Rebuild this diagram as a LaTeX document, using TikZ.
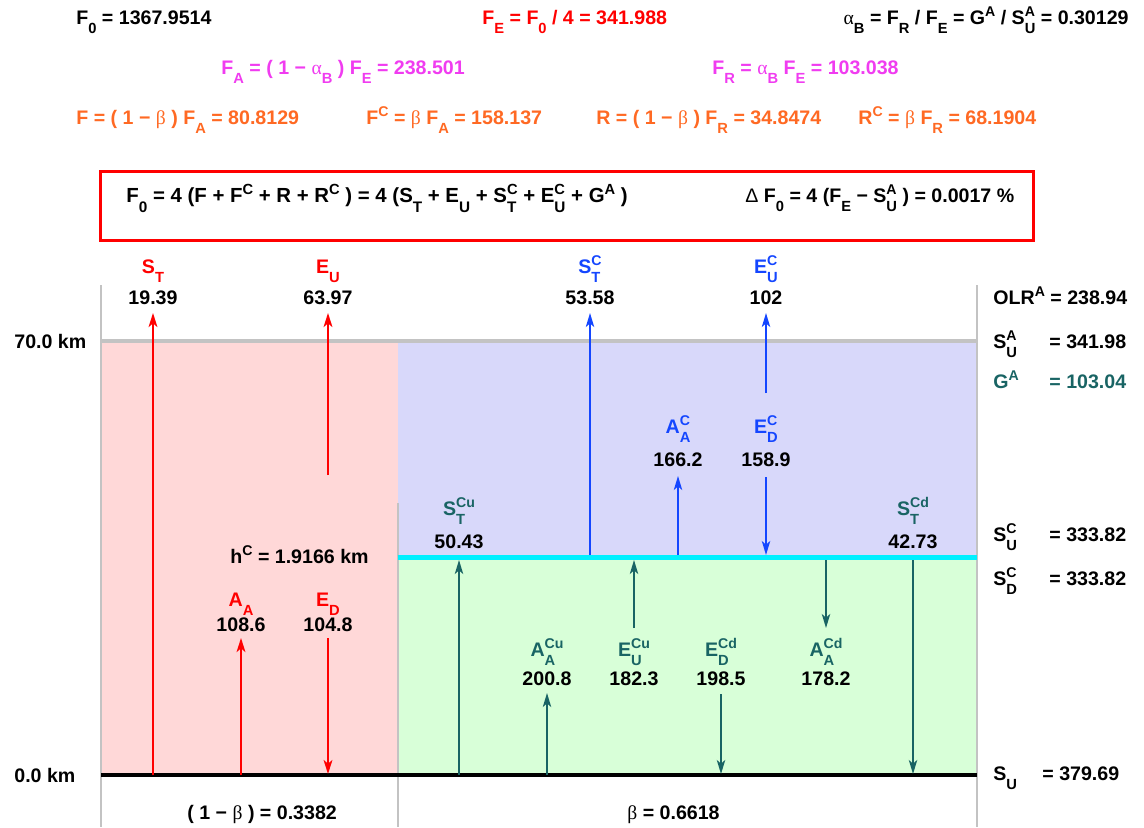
\documentclass[tikz,border=0pt]{standalone}
\usepackage{fontspec}
\setmainfont{Liberation Sans}
\newfontfamily\grk{Liberation Serif}
\usepackage{graphicx}
\usetikzlibrary{arrows.meta}
\definecolor{cred}{RGB}{255,0,0}
\definecolor{cmag}{RGB}{240,60,240}
\definecolor{corg}{RGB}{255,105,35}
\definecolor{cblue}{RGB}{20,70,255}
\definecolor{cteal}{RGB}{25,100,100}
\definecolor{fpink}{RGB}{255,216,216}
\definecolor{fblue}{RGB}{216,216,250}
\definecolor{fgreen}{RGB}{216,255,216}
\definecolor{ccyan}{RGB}{0,240,255}
\definecolor{cgray}{RGB}{195,195,195}
\newcommand\sbs[1]{\raisebox{-0.5em}{\scalebox{0.75}{#1}}}
\newcommand\sps[1]{\raisebox{0.36em}{\scalebox{0.72}{#1}}}
\newcommand\sbp[2]{\ooalign{\sps{#2}\cr\sbs{#1}\cr}}
\newcommand\al{{\grk\mdseries α}}
\newcommand\be{{\grk\mdseries β}}
\begin{document}
\begin{tikzpicture}[x=0.5pt,y=-0.5pt,
  font=\fontsize{9.8}{11.5}\selectfont\bfseries,
  every node/.style={inner sep=0pt},
  lbl/.style={anchor=base},
  lw/.style={anchor=base west},
  arrR/.style={draw=cred, line width=1pt, -{Stealth[length=7pt,width=4.4pt,inset=1.8pt]}},
  arrB/.style={draw=cblue, line width=0.8pt, -{Stealth[length=7pt,width=4.2pt,inset=1.8pt]}},
  arrT/.style={draw=cteal, line width=0.8pt, -{Stealth[length=7pt,width=4.2pt,inset=1.8pt]}},
  gline/.style={draw=cgray, line width=1pt}]
\useasboundingbox (0,0) rectangle (1144,827);

% ---- top formulas ----
\node[lw] (f0) at (76,24) {F\sbs{0} = 1367.9514};
\node[lw, text=cred] (fe) at (482,24) {F\sbs{E} = F\sbs{0} / 4 = 341.988};
\node[anchor=base east] (ab) at (1129,24) {\al\sbs{B} = F\sbs{R} / F\sbs{E} = G\sps{A} / S\sbp{U}{A} = 0.30129};
\node[lw, text=cmag] (fa) at (221,74) {F\sbs{A} = ( 1 − \al\sbs{B} ) F\sbs{E} = 238.501};
\node[lw, text=cmag] (fr) at (712,74) {F\sbs{R} = \al\sbs{B} F\sbs{E} = 103.038};
\node[lw, text=corg] (ff) at (76,124) {F = ( 1 − \be{} ) F\sbs{A} = 80.8129};
\node[lw, text=corg] (fc) at (366,124) {F\sps{C} = \be{} F\sbs{A} = 158.137};
\node[lw, text=corg] (rr) at (596,124) {R = ( 1 − \be{} ) F\sbs{R} = 34.8474};
\node[lw, text=corg] (rc) at (858,124) {R\sps{C} = \be{} F\sbs{R} = 68.1904};

% ---- box ----
\node[draw=cred, line width=1.5pt, minimum width=466.5pt, minimum height=34.5pt] (box) at (567,205.5) {};
\node[lw, font=\fontsize{10.2}{12}\selectfont\bfseries] (eq1) at (126,202) {F\sbs{0} = 4 (F + F\sps{C} + R + R\sps{C} ) = 4 (S\sbs{T} + E\sbs{U} + S\sbp{T}{C} + E\sbp{U}{C} + G\sps{A} )};
\node[lw] (eq2) at (745,202) {{\mdseries Δ} F\sbs{0} = 4 (F\sbs{E} − S\sbp{U}{A} ) = 0.0017 \%};

% ---- regions ----
\fill[fpink] (101,341) rectangle (397.6,775);
\fill[fblue] (397.6,341) rectangle (977,557);
\fill[fgreen] (397.6,557) rectangle (977,775);
\coordinate (vl0) at (101,285); \coordinate (vl1) at (101,827);
\coordinate (vr0) at (977,285); \coordinate (vr1) at (977,827);
\coordinate (vm0) at (397.6,503); \coordinate (vm1) at (397.6,827);
\draw[gline] (vl0) -- (vl1);
\draw[gline] (vr0) -- (vr1);
\draw[gline] (vm0) -- (vm1);
\coordinate (top0) at (101,341); \coordinate (top1) at (977,341);
\draw[draw=cgray, line width=2pt] (top0) -- (top1);
\coordinate (cy0) at (397.6,557.5); \coordinate (cy1) at (977,557.5);
\draw[draw=ccyan, line width=2.5pt] (cy0) -- (cy1);
\coordinate (bk0) at (101,775); \coordinate (bk1) at (977,775);
\draw[draw=black, line width=2pt] (bk0) -- (bk1);

% ---- side labels ----
\node[lw] (km70) at (14,348) {70.0 km};
\node[lw] (km0) at (14,782) {0.0 km};
\node[lw] (olr) at (993,304) {OLR\sps{A} = 238.94};
\node[lw] (sua) at (993,348) {S\sbp{U}{A}};
\node[lw] (suav) at (1049,348) {= 341.98};
\node[lw, text=cteal] (ga) at (993,388) {G\sps{A}};
\node[lw, text=cteal] (gav) at (1049,388) {= 103.04};
\node[lw] (suc) at (993,541) {S\sbp{U}{C}};
\node[lw] (sucv) at (1049,541) {= 333.82};
\node[lw] (sdc) at (993,585) {S\sbp{D}{C}};
\node[lw] (sdcv) at (1049,585) {= 333.82};
\node[lw] (su) at (993,780) {S\sbs{U}};
\node[lw] (suv) at (1042,780) {= 379.69};
\node[lw] (b1) at (187,819) {( 1 − \be{} ) = 0.3382};
\node[lw] (b2) at (627,819) {\be{} = 0.6618};
\node[lw] (hc) at (230,563) {h\sps{C} = 1.9166 km};

% ---- red (left) ----
\node[lbl, text=cred] (lST) at (153,273) {S\sbs{T}};
\node[lbl] (vST) at (153,304) {19.39};
\node[lbl, text=cred] (lEU) at (328,273) {E\sbs{U}};
\node[lbl] (vEU) at (328,304) {63.97};
\node[lbl, text=cred] (lAA) at (241,606) {A\sbs{A}};
\node[lbl] (vAA) at (241,631) {108.6};
\node[lbl, text=cred] (lED) at (328,606) {E\sbs{D}};
\node[lbl] (vED) at (328,631) {104.8};
\coordinate (rST0) at (153,775); \coordinate (rST1) at (153,313);
\coordinate (rEU0) at (328,475); \coordinate (rEU1) at (328,313);
\coordinate (rAA0) at (241,775); \coordinate (rAA1) at (241,638);
\coordinate (rED0) at (328,638); \coordinate (rED1) at (328,774);
\draw[arrR] (rST0) -- (rST1);
\draw[arrR] (rEU0) -- (rEU1);
\draw[arrR] (rAA0) -- (rAA1);
\draw[arrR] (rED0) -- (rED1);

% ---- blue (cloud top) ----
\node[lbl, text=cblue] (lSTC) at (590,273) {S\sbp{T}{C}};
\node[lbl] (vSTC) at (590,304) {53.58};
\node[lbl, text=cblue] (lEUC) at (766,273) {E\sbp{U}{C}};
\node[lbl] (vEUC) at (766,304) {102};
\node[lbl, text=cblue] (lAAC) at (678,433) {A\sbp{A}{C}};
\node[lbl] (vAAC) at (678,466) {166.2};
\node[lbl, text=cblue] (lEDC) at (766,433) {E\sbp{D}{C}};
\node[lbl] (vEDC) at (766,466) {158.9};
\coordinate (bST0) at (590,555); \coordinate (bST1) at (590,313);
\coordinate (bEU0) at (766,393); \coordinate (bEU1) at (766,313);
\coordinate (bAA0) at (678,555); \coordinate (bAA1) at (678,476);
\coordinate (bED0) at (766,477); \coordinate (bED1) at (766,555);
\draw[arrB] (bST0) -- (bST1);
\draw[arrB] (bEU0) -- (bEU1);
\draw[arrB] (bAA0) -- (bAA1);
\draw[arrB] (bED0) -- (bED1);

% ---- teal (below cloud) ----
\node[lbl, text=cteal] (lSCu) at (459,515) {S\sbp{T}{Cu}};
\node[lbl] (vSCu) at (459,548) {50.43};
\node[lbl, text=cteal] (lSCd) at (913,515) {S\sbp{T}{Cd}};
\node[lbl] (vSCd) at (913,548) {42.73};
\node[lbl, text=cteal] (lACu) at (547,656) {A\sbp{A}{Cu}};
\node[lbl] (vACu) at (547,685) {200.8};
\node[lbl, text=cteal] (lECu) at (634,656) {E\sbp{U}{Cu}};
\node[lbl] (vECu) at (634,685) {182.3};
\node[lbl, text=cteal] (lECd) at (721,656) {E\sbp{D}{Cd}};
\node[lbl] (vECd) at (721,685) {198.5};
\node[lbl, text=cteal] (lACd) at (826,656) {A\sbp{A}{Cd}};
\node[lbl] (vACd) at (826,685) {178.2};
\coordinate (tSCu0) at (459,775); \coordinate (tSCu1) at (459,560);
\coordinate (tACu0) at (547,775); \coordinate (tACu1) at (547,693);
\coordinate (tECu0) at (634,628); \coordinate (tECu1) at (634,560);
\coordinate (tECd0) at (721,694); \coordinate (tECd1) at (721,774);
\coordinate (tACd0) at (826,560); \coordinate (tACd1) at (826,628);
\coordinate (tSCd0) at (913,560); \coordinate (tSCd1) at (913,774);
\draw[arrT] (tSCu0) -- (tSCu1);
\draw[arrT] (tACu0) -- (tACu1);
\draw[arrT] (tECu0) -- (tECu1);
\draw[arrT] (tECd0) -- (tECd1);
\draw[arrT] (tACd0) -- (tACd1);
\draw[arrT] (tSCd0) -- (tSCd1);
\end{tikzpicture}
\end{document}
